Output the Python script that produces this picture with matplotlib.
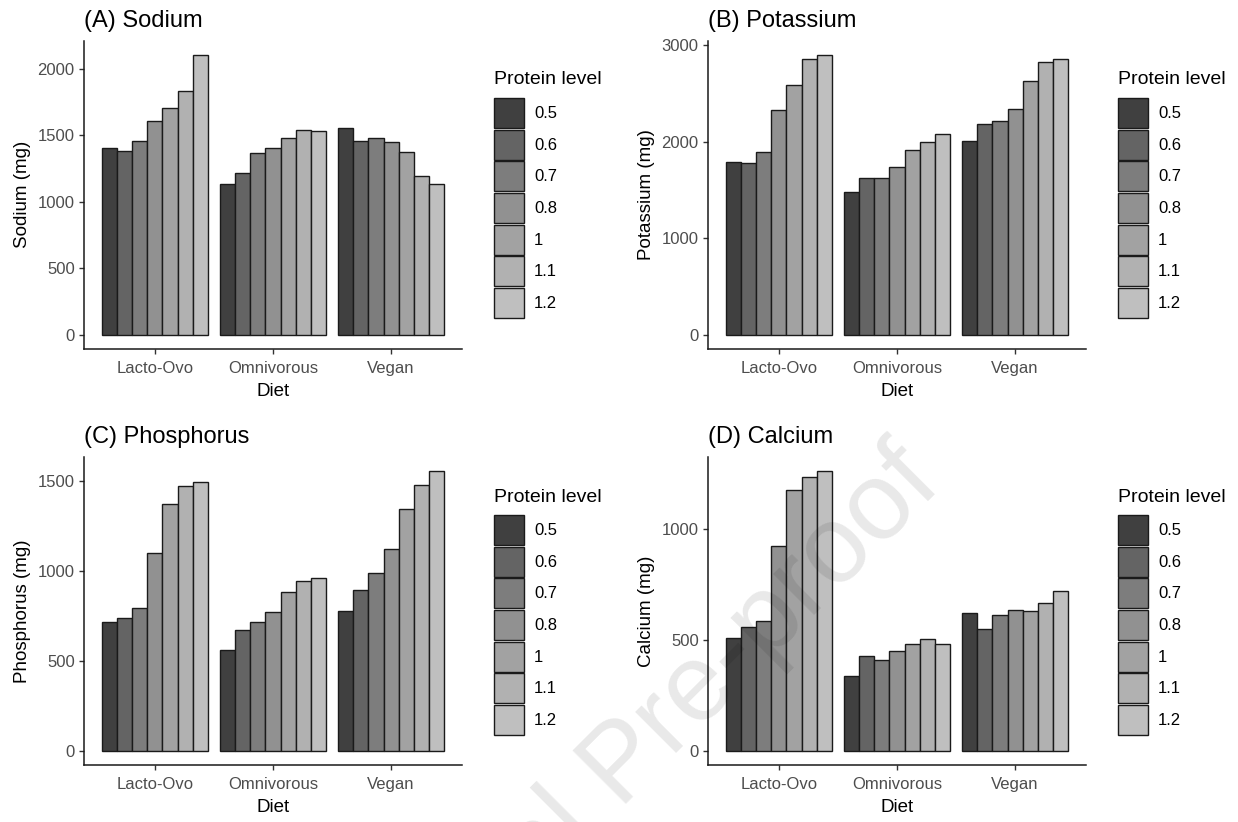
import numpy as np
import matplotlib.pyplot as plt
from matplotlib.patches import Patch

plt.rcParams['font.family'] = ['Liberation Sans', 'DejaVu Sans']

diets = ['Lacto-Ovo', 'Omnivorous', 'Vegan']
protein_levels = ['0.5', '0.6', '0.7', '0.8', '1', '1.1', '1.2']

# values per diet, one per protein level
sodium = {
    'Lacto-Ovo':  [1404, 1384, 1457, 1604, 1707, 1832, 2105],
    'Omnivorous': [1134, 1217, 1364, 1407, 1479, 1542, 1532],
    'Vegan':      [1552, 1459, 1477, 1447, 1372, 1197, 1134],
}
potassium = {
    'Lacto-Ovo':  [1795, 1781, 1895, 2330, 2585, 2858, 2903],
    'Omnivorous': [1477, 1622, 1622, 1740, 1912, 1995, 2081],
    'Vegan':      [2012, 2182, 2213, 2340, 2630, 2830, 2858],
}
phosphorus = {
    'Lacto-Ovo':  [715, 737, 793, 1099, 1369, 1469, 1493],
    'Omnivorous': [562, 669, 715, 769, 883, 946, 962],
    'Vegan':      [776, 892, 990, 1123, 1345, 1478, 1554],
}
calcium = {
    'Lacto-Ovo':  [508, 562, 587, 926, 1176, 1239, 1264],
    'Omnivorous': [338, 431, 413, 450, 482, 506, 482],
    'Vegan':      [625, 550, 613, 638, 631, 668, 724],
}

panels = [
    ('(A) Sodium', 'Sodium (mg)', sodium, [0, 500, 1000, 1500, 2000]),
    ('(B) Potassium', 'Potassium (mg)', potassium, [0, 1000, 2000, 3000]),
    ('(C) Phosphorus', 'Phosphorus (mg)', phosphorus, [0, 500, 1000, 1500]),
    ('(D) Calcium', 'Calcium (mg)', calcium, [0, 500, 1000]),
]

greys = ['#404040', '#646464', '#7d7d7d', '#919191', '#a2a2a2', '#b1b1b1', '#bfbfbf']

W, H = 1238, 822
fig = plt.figure(figsize=(W / 100, H / 100), dpi=100)

# axes boxes in pixels: left, right, top, bottom
boxes = [(84, 462, 40.7, 349), (708, 1086, 40.7, 349),
         (84, 462, 457, 765), (708, 1086, 457, 765)]
# legend: left x, title centre y, first key top y (pixels)
legend_pos = [(494, 80, 98), (1118, 80, 98), (494, 497, 515), (1118, 497, 515)]

n = len(protein_levels)
bw = 0.9 / n

for (title, ylab, data, yt), (l, r, t, b), (lx, ty, ky) in zip(panels, boxes, legend_pos):
    ax = fig.add_axes([l / W, 1 - b / H, (r - l) / W, (b - t) / H])
    for j in range(n):
        xs = np.arange(1, len(diets) + 1) - 0.45 + (j + 0.5) * bw
        vals = [data[d][j] for d in diets]
        ax.bar(xs, vals, width=bw, color=greys[j], edgecolor='#1a1a1a', linewidth=1.0)
    ymax = max(max(v) for v in data.values())
    ax.set_ylim(-0.05 * ymax, 1.05 * ymax)
    ax.set_xlim(0.4, 3.6)
    ax.set_xticks(range(1, len(diets) + 1))
    ax.set_xticklabels(diets)
    ax.set_yticks(yt)
    for s in ['top', 'right']:
        ax.spines[s].set_visible(False)
    for s in ['left', 'bottom']:
        ax.spines[s].set_linewidth(1.1)
        ax.spines[s].set_color('#1a1a1a')
    ax.tick_params(length=3.3, width=1.0, color='#333333', labelcolor='#4d4d4d',
                   labelsize=12)
    ax.tick_params(axis='x', pad=5.2)
    ax.tick_params(axis='y', pad=3.4)
    ax.set_xlabel('Diet', fontsize=13.5, labelpad=5.5)
    ax.set_ylabel(ylab, fontsize=13.5, labelpad=5)
    ax.set_title(title, loc='left', fontsize=17, pad=10)

    fig.text(lx / W, 1 - ty / H, 'Protein level', fontsize=14, ha='left', va='center')
    handles = [Patch(facecolor=greys[j], edgecolor='#1a1a1a', linewidth=1.0)
               for j in range(n)]
    ax.legend(handles, protein_levels, loc='upper left',
              bbox_to_anchor=(lx / W, 1 - ky / H), bbox_transform=fig.transFigure,
              frameon=False, fontsize=12,
              handlelength=1.8, handleheight=2.39, labelspacing=0.1,
              handletextpad=0.6, borderpad=0, borderaxespad=0)

# watermark
fig.text(0.504, 0.068, 'Journal Pre-proof', fontsize=79, color='black', alpha=0.09,
         rotation=45, ha='center', va='center', rotation_mode='anchor', zorder=10)

fig.savefig('out.png', dpi=100)
